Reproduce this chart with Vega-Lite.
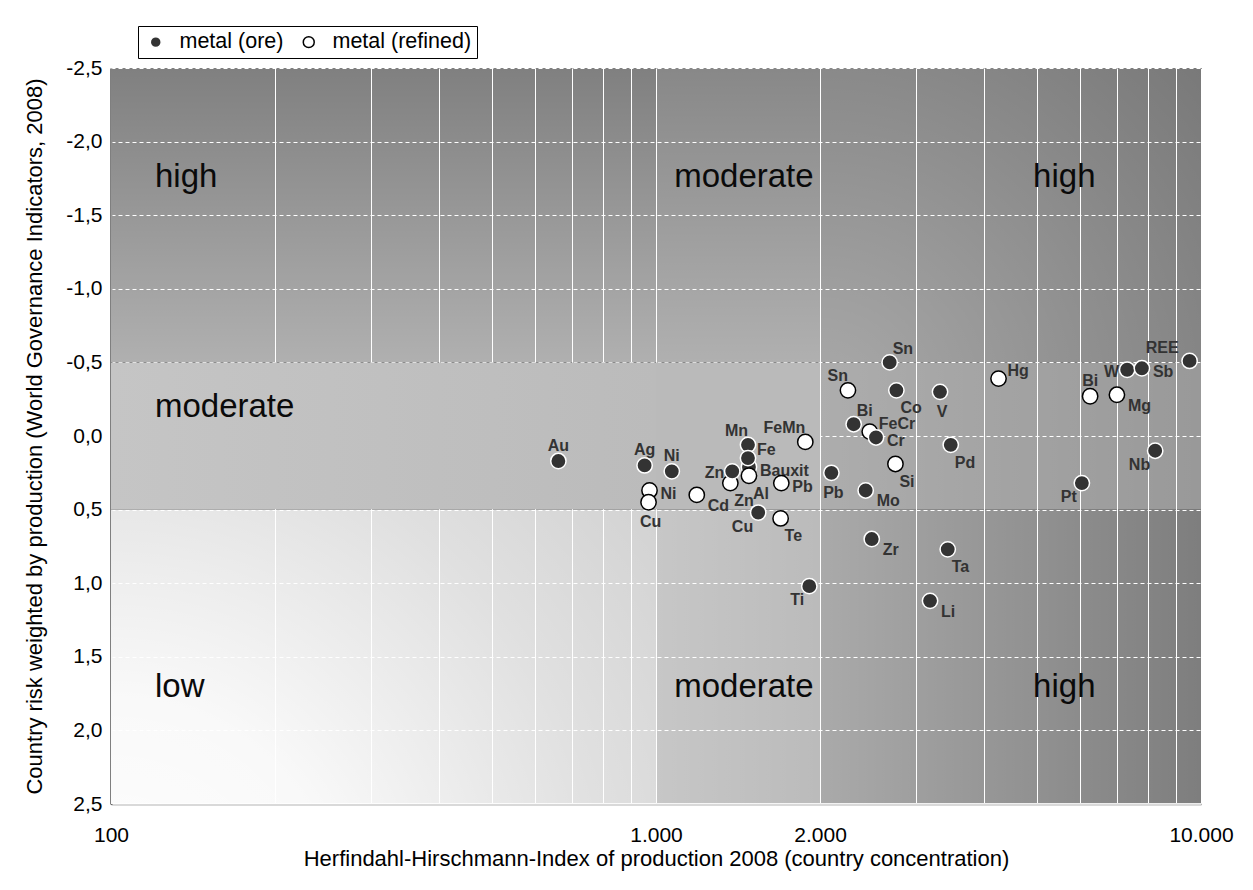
{
  "$schema": "https://vega.github.io/schema/vega-lite/v6.json",
  "width": 1090,
  "height": 736,
  "autosize": {"type": "none"},
  "padding": {"left": 111, "top": 68, "right": 52, "bottom": 86},
  "background": "white",
  "config": {
    "font": "Liberation Sans",
    "view": {"fill": "black", "stroke": "black", "strokeWidth": 1}
  },
  "datasets": {
    "zones": [
      {"zone": "TL", "hhi": 100, "hhi2": 1000, "risk": -2.5, "risk2": -0.5},
      {"zone": "TM", "hhi": 1000, "hhi2": 2000, "risk": -2.5, "risk2": -0.5},
      {"zone": "TR", "hhi": 2000, "hhi2": 10000, "risk": -2.5, "risk2": -0.5},
      {"zone": "ML", "hhi": 100, "hhi2": 1000, "risk": -0.5, "risk2": 0.5},
      {"zone": "MM", "hhi": 1000, "hhi2": 2000, "risk": -0.5, "risk2": 0.5},
      {"zone": "MR", "hhi": 2000, "hhi2": 10000, "risk": -0.5, "risk2": 0.5},
      {"zone": "BL", "hhi": 100, "hhi2": 1000, "risk": 0.5, "risk2": 2.5},
      {"zone": "BM", "hhi": 1000, "hhi2": 2000, "risk": 0.5, "risk2": 2.5},
      {"zone": "BR", "hhi": 2000, "hhi2": 10000, "risk": 0.5, "risk2": 2.5}
    ],
    "zonelabels": [
      {"label": "high", "hhi": 120.4, "risk": -1.69},
      {"label": "moderate", "hhi": 120.4, "risk": -0.13},
      {"label": "low", "hhi": 120.4, "risk": 1.77},
      {"label": "moderate", "hhi": 1080, "risk": -1.69},
      {"label": "moderate", "hhi": 1080, "risk": 1.77},
      {"label": "high", "hhi": 4920, "risk": -1.69},
      {"label": "high", "hhi": 4920, "risk": 1.77}
    ],
    "metals": [
      {"name": "Bauxit", "type": "metal (ore)", "hhi": 1481, "risk": 0.21, "pos": "E"},
      {"name": "Ni", "type": "metal (refined)", "hhi": 973, "risk": 0.37, "pos": "E"},
      {"name": "Cu", "type": "metal (refined)", "hhi": 969, "risk": 0.45, "pos": "S"},
      {"name": "Cd", "type": "metal (refined)", "hhi": 1188, "risk": 0.40, "pos": "ESE"},
      {"name": "Zn", "type": "metal (refined)", "hhi": 1369, "risk": 0.32, "pos": "SE"},
      {"name": "Al", "type": "metal (refined)", "hhi": 1481, "risk": 0.27, "pos": "SE"},
      {"name": "Pb", "type": "metal (refined)", "hhi": 1698, "risk": 0.32, "pos": "E"},
      {"name": "Te", "type": "metal (refined)", "hhi": 1693, "risk": 0.56, "pos": "SE"},
      {"name": "FeMn", "type": "metal (refined)", "hhi": 1879, "risk": 0.04, "pos": "NW"},
      {"name": "Sn", "type": "metal (refined)", "hhi": 2250, "risk": -0.31, "pos": "NW"},
      {"name": "FeCr", "type": "metal (refined)", "hhi": 2467, "risk": -0.03, "pos": "ENE"},
      {"name": "Si", "type": "metal (refined)", "hhi": 2750, "risk": 0.19, "pos": "SE"},
      {"name": "Hg", "type": "metal (refined)", "hhi": 4251, "risk": -0.39, "pos": "ENE"},
      {"name": "Bi", "type": "metal (refined)", "hhi": 6260, "risk": -0.27, "pos": "N"},
      {"name": "Mg", "type": "metal (refined)", "hhi": 7010, "risk": -0.28, "pos": "ESE"},
      {"name": "Au", "type": "metal (ore)", "hhi": 662, "risk": 0.17, "pos": "N"},
      {"name": "Ag", "type": "metal (ore)", "hhi": 953, "risk": 0.20, "pos": "N"},
      {"name": "Ni", "type": "metal (ore)", "hhi": 1069, "risk": 0.24, "pos": "N"},
      {"name": "Mn", "type": "metal (ore)", "hhi": 1475, "risk": 0.06, "pos": "NW"},
      {"name": "Fe", "type": "metal (ore)", "hhi": 1475, "risk": 0.15, "pos": "ENE"},
      {"name": "Zn", "type": "metal (ore)", "hhi": 1380, "risk": 0.24, "pos": "W"},
      {"name": "Cu", "type": "metal (ore)", "hhi": 1540, "risk": 0.52, "pos": "SW"},
      {"name": "Ti", "type": "metal (ore)", "hhi": 1911, "risk": 1.02, "pos": "SW"},
      {"name": "Pb", "type": "metal (ore)", "hhi": 2098, "risk": 0.25, "pos": "S"},
      {"name": "Sn", "type": "metal (ore)", "hhi": 2684, "risk": -0.50, "pos": "NE"},
      {"name": "Co", "type": "metal (ore)", "hhi": 2761, "risk": -0.31, "pos": "SE"},
      {"name": "V", "type": "metal (ore)", "hhi": 3320, "risk": -0.30, "pos": "S"},
      {"name": "Bi", "type": "metal (ore)", "hhi": 2305, "risk": -0.08, "pos": "NE"},
      {"name": "Cr", "type": "metal (ore)", "hhi": 2533, "risk": 0.01, "pos": "E"},
      {"name": "Pd", "type": "metal (ore)", "hhi": 3474, "risk": 0.06, "pos": "SE"},
      {"name": "Mo", "type": "metal (ore)", "hhi": 2425, "risk": 0.37, "pos": "ESE"},
      {"name": "Zr", "type": "metal (ore)", "hhi": 2488, "risk": 0.70, "pos": "ESE"},
      {"name": "Ta", "type": "metal (ore)", "hhi": 3430, "risk": 0.77, "pos": "SE"},
      {"name": "Li", "type": "metal (ore)", "hhi": 3183, "risk": 1.12, "pos": "ESE"},
      {"name": "Pt", "type": "metal (ore)", "hhi": 6045, "risk": 0.32, "pos": "SW"},
      {"name": "W", "type": "metal (ore)", "hhi": 7320, "risk": -0.45, "pos": "W"},
      {"name": "Sb", "type": "metal (ore)", "hhi": 7790, "risk": -0.46, "pos": "E"},
      {"name": "REE", "type": "metal (ore)", "hhi": 9530, "risk": -0.51, "pos": "NWW"},
      {"name": "Nb", "type": "metal (ore)", "hhi": 8240, "risk": 0.10, "pos": "SW"}
    ]
  },
  "encoding": {
    "x": {
      "field": "hhi",
      "type": "quantitative",
      "scale": {"type": "log", "domain": [100, 10000], "nice": false},
      "axis": {
        "title": "Herfindahl-Hirschmann-Index of production 2008 (country concentration)",
        "values": [100, 200, 300, 400, 500, 600, 700, 800, 900, 1000, 2000, 3000, 4000, 5000, 6000, 7000, 8000, 9000, 10000],
        "labelExpr": "indexof([100, 1000, 2000, 10000], datum.value) >= 0 ? replace(format(datum.value, ','), ',', '.') : ''",
        "labelOverlap": false,
        "labelFlush": false,
        "labelFontSize": 21,
        "labelColor": "black",
        "labelPadding": 20,
        "ticks": false,
        "grid": true,
        "gridColor": "white",
        "gridWidth": 1,
        "gridOpacity": 1,
        "domainColor": "#d9d9d9",
        "domainWidth": 3,
        "titleFontSize": 22,
        "titleFontWeight": "normal",
        "titleColor": "black",
        "titlePadding": 3
      }
    },
    "y": {
      "field": "risk",
      "type": "quantitative",
      "scale": {"domain": [-2.5, 2.5], "reverse": true, "nice": false, "zero": false},
      "axis": {
        "title": "Country risk weighted by production (World Governance Indicators, 2008)",
        "values": [-2.5, -2, -1.5, -1, -0.5, 0, 0.5, 1, 1.5, 2, 2.5],
        "labelExpr": "(datum.value < 0 ? '-' : '') + replace(format(abs(datum.value), '.1f'), '.', ',')",
        "labelOverlap": false,
        "labelFlush": false,
        "labelFontSize": 21,
        "labelColor": "black",
        "labelPadding": 9,
        "ticks": false,
        "grid": true,
        "gridColor": "white",
        "gridDash": [4, 3],
        "gridWidth": 1,
        "gridOpacity": 1,
        "domainColor": "black",
        "domainWidth": 2,
        "titleFontSize": 22,
        "titleFontWeight": "normal",
        "titleColor": "black",
        "titlePadding": 19
      }
    }
  },
  "layer": [
    {
      "data": {"name": "zones"},
      "transform": [{"filter": "datum.zone === 'TL'"}],
      "mark": {"type": "rect", "strokeWidth": 0, "fill": {"gradient": "linear", "x1": 0, "y1": 0, "x2": 0, "y2": 1, "stops": [{"offset": 0, "color": "rgba(255,255,255,0.502)"}, {"offset": 1, "color": "rgba(255,255,255,0.69)"}]}},
      "encoding": {"x2": {"field": "hhi2"}, "y2": {"field": "risk2"}}
    },
    {
      "data": {"name": "zones"},
      "transform": [{"filter": "datum.zone === 'TM'"}],
      "mark": {"type": "rect", "strokeWidth": 0, "fill": {"gradient": "linear", "x1": 0, "y1": 0, "x2": 0, "y2": 1, "stops": [{"offset": 0, "color": "rgba(255,255,255,0.533)"}, {"offset": 1, "color": "rgba(255,255,255,0.69)"}]}},
      "encoding": {"x2": {"field": "hhi2"}, "y2": {"field": "risk2"}}
    },
    {
      "data": {"name": "zones"},
      "transform": [{"filter": "datum.zone === 'TR'"}],
      "mark": {"type": "rect", "strokeWidth": 0, "fill": {"gradient": "radial", "x1": 0, "y1": 1, "r1": 0, "x2": 0, "y2": 1, "r2": 1.42, "stops": [{"offset": 0, "color": "rgba(255,255,255,0.667)"}, {"offset": 1, "color": "rgba(255,255,255,0.463)"}]}},
      "encoding": {"x2": {"field": "hhi2"}, "y2": {"field": "risk2"}}
    },
    {
      "data": {"name": "zones"},
      "transform": [{"filter": "datum.zone === 'ML'"}],
      "mark": {"type": "rect", "strokeWidth": 0, "fill": {"gradient": "linear", "x1": 0, "y1": 0, "x2": 1, "y2": 0, "stops": [{"offset": 0, "color": "#c5c5c5"}, {"offset": 1, "color": "#bbbbbb"}]}},
      "encoding": {"x2": {"field": "hhi2"}, "y2": {"field": "risk2"}}
    },
    {
      "data": {"name": "zones"},
      "transform": [{"filter": "datum.zone === 'MM'"}],
      "mark": {"type": "rect", "strokeWidth": 0, "fill": "#bababa"},
      "encoding": {"x2": {"field": "hhi2"}, "y2": {"field": "risk2"}}
    },
    {
      "data": {"name": "zones"},
      "transform": [{"filter": "datum.zone === 'MR'"}],
      "mark": {"type": "rect", "strokeWidth": 0, "fill": {"gradient": "linear", "x1": 0, "y1": 0, "x2": 1, "y2": 0, "stops": [{"offset": 0, "color": "rgba(255,255,255,0.68)"}, {"offset": 1, "color": "rgba(255,255,255,0.6)"}]}},
      "encoding": {"x2": {"field": "hhi2"}, "y2": {"field": "risk2"}}
    },
    {
      "data": {"name": "zones"},
      "transform": [{"filter": "datum.zone === 'BL'"}],
      "mark": {"type": "rect", "strokeWidth": 0, "fill": {"gradient": "radial", "x1": 0, "y1": 1, "r1": 0, "x2": 0, "y2": 1, "r2": 1.42, "stops": [{"offset": 0, "color": "rgba(255,255,255,1)"}, {"offset": 0.3, "color": "rgba(255,255,255,0.975)"}, {"offset": 0.65, "color": "rgba(255,255,255,0.88)"}, {"offset": 1, "color": "rgba(255,255,255,0.8)"}]}},
      "encoding": {"x2": {"field": "hhi2"}, "y2": {"field": "risk2"}}
    },
    {
      "data": {"name": "zones"},
      "transform": [{"filter": "datum.zone === 'BM'"}],
      "mark": {"type": "rect", "strokeWidth": 0, "fill": {"gradient": "linear", "x1": 0, "y1": 0, "x2": 1, "y2": 0, "stops": [{"offset": 0, "color": "rgba(255,255,255,0.78)"}, {"offset": 1, "color": "rgba(255,255,255,0.735)"}]}},
      "encoding": {"x2": {"field": "hhi2"}, "y2": {"field": "risk2"}}
    },
    {
      "data": {"name": "zones"},
      "transform": [{"filter": "datum.zone === 'BR'"}],
      "mark": {"type": "rect", "strokeWidth": 0, "fill": {"gradient": "linear", "x1": 0, "y1": 0, "x2": 1, "y2": 0, "stops": [{"offset": 0, "color": "rgba(255,255,255,0.667)"}, {"offset": 1, "color": "rgba(255,255,255,0.494)"}]}},
      "encoding": {"x2": {"field": "hhi2"}, "y2": {"field": "risk2"}}
    },
    {
      "data": {"name": "zonelabels"},
      "mark": {"type": "text", "align": "left", "baseline": "alphabetic", "fontSize": 33, "fill": "#0a0a0a"},
      "encoding": {"text": {"field": "label"}}
    },
    {
      "data": {"name": "metals"},
      "transform": [{"filter": "datum.pos === 'N'"}],
      "mark": {"type": "text", "align": "center", "baseline": "middle", "dx": 0, "dy": -15, "fontSize": 16, "fontWeight": "bold", "fill": "#333333"},
      "encoding": {"text": {"field": "name"}}
    },
    {
      "data": {"name": "metals"},
      "transform": [{"filter": "datum.pos === 'NW'"}],
      "mark": {"type": "text", "align": "right", "baseline": "middle", "dx": 0, "dy": -14, "fontSize": 16, "fontWeight": "bold", "fill": "#333333"},
      "encoding": {"text": {"field": "name"}}
    },
    {
      "data": {"name": "metals"},
      "transform": [{"filter": "datum.pos === 'NWW'"}],
      "mark": {"type": "text", "align": "right", "baseline": "middle", "dx": -11, "dy": -13, "fontSize": 16, "fontWeight": "bold", "fill": "#333333"},
      "encoding": {"text": {"field": "name"}}
    },
    {
      "data": {"name": "metals"},
      "transform": [{"filter": "datum.pos === 'NE'"}],
      "mark": {"type": "text", "align": "left", "baseline": "middle", "dx": 3, "dy": -13, "fontSize": 16, "fontWeight": "bold", "fill": "#333333"},
      "encoding": {"text": {"field": "name"}}
    },
    {
      "data": {"name": "metals"},
      "transform": [{"filter": "datum.pos === 'ENE'"}],
      "mark": {"type": "text", "align": "left", "baseline": "middle", "dx": 9, "dy": -8, "fontSize": 16, "fontWeight": "bold", "fill": "#333333"},
      "encoding": {"text": {"field": "name"}}
    },
    {
      "data": {"name": "metals"},
      "transform": [{"filter": "datum.pos === 'E'"}],
      "mark": {"type": "text", "align": "left", "baseline": "middle", "dx": 11, "dy": 4, "fontSize": 16, "fontWeight": "bold", "fill": "#333333"},
      "encoding": {"text": {"field": "name"}}
    },
    {
      "data": {"name": "metals"},
      "transform": [{"filter": "datum.pos === 'W'"}],
      "mark": {"type": "text", "align": "right", "baseline": "middle", "dx": -8, "dy": 2, "fontSize": 16, "fontWeight": "bold", "fill": "#333333"},
      "encoding": {"text": {"field": "name"}}
    },
    {
      "data": {"name": "metals"},
      "transform": [{"filter": "datum.pos === 'S'"}],
      "mark": {"type": "text", "align": "center", "baseline": "middle", "dx": 2, "dy": 20, "fontSize": 16, "fontWeight": "bold", "fill": "#333333"},
      "encoding": {"text": {"field": "name"}}
    },
    {
      "data": {"name": "metals"},
      "transform": [{"filter": "datum.pos === 'SE'"}],
      "mark": {"type": "text", "align": "left", "baseline": "middle", "dx": 4, "dy": 18, "fontSize": 16, "fontWeight": "bold", "fill": "#333333"},
      "encoding": {"text": {"field": "name"}}
    },
    {
      "data": {"name": "metals"},
      "transform": [{"filter": "datum.pos === 'ESE'"}],
      "mark": {"type": "text", "align": "left", "baseline": "middle", "dx": 11, "dy": 11, "fontSize": 16, "fontWeight": "bold", "fill": "#333333"},
      "encoding": {"text": {"field": "name"}}
    },
    {
      "data": {"name": "metals"},
      "transform": [{"filter": "datum.pos === 'SW'"}],
      "mark": {"type": "text", "align": "right", "baseline": "middle", "dx": -5, "dy": 14, "fontSize": 16, "fontWeight": "bold", "fill": "#333333"},
      "encoding": {"text": {"field": "name"}}
    },
    {
      "data": {"name": "metals"},
      "mark": {"type": "circle", "size": 235, "strokeWidth": 1.5, "opacity": 1},
      "encoding": {
        "fill": {
          "field": "type",
          "type": "nominal",
          "scale": {"domain": ["metal (ore)", "metal (refined)"], "range": ["#333333", "#ffffff"]},
          "legend": {"title": null, "orient": "none", "legendX": 27, "legendY": -42, "direction": "horizontal", "fillColor": "white", "strokeColor": "black", "padding": 5, "symbolOffset": 2, "symbolSize": 120, "symbolStrokeWidth": 1.5, "symbolOpacity": 1, "symbolType": "circle", "labelFontSize": 21.5, "labelColor": "black", "labelOffset": 13, "columnPadding": 12, "cornerRadius": 0}
        },
        "stroke": {
          "field": "type",
          "type": "nominal",
          "scale": {"domain": ["metal (ore)", "metal (refined)"], "range": ["#ffffff", "#000000"]},
          "legend": {"title": null, "orient": "none", "legendX": 27, "legendY": -42, "direction": "horizontal", "fillColor": "white", "strokeColor": "black", "padding": 5, "symbolOffset": 2, "symbolSize": 120, "symbolStrokeWidth": 1.5, "symbolOpacity": 1, "symbolType": "circle", "labelFontSize": 21.5, "labelColor": "black", "labelOffset": 13, "columnPadding": 12, "cornerRadius": 0}
        }
      }
    }
  ]
}
